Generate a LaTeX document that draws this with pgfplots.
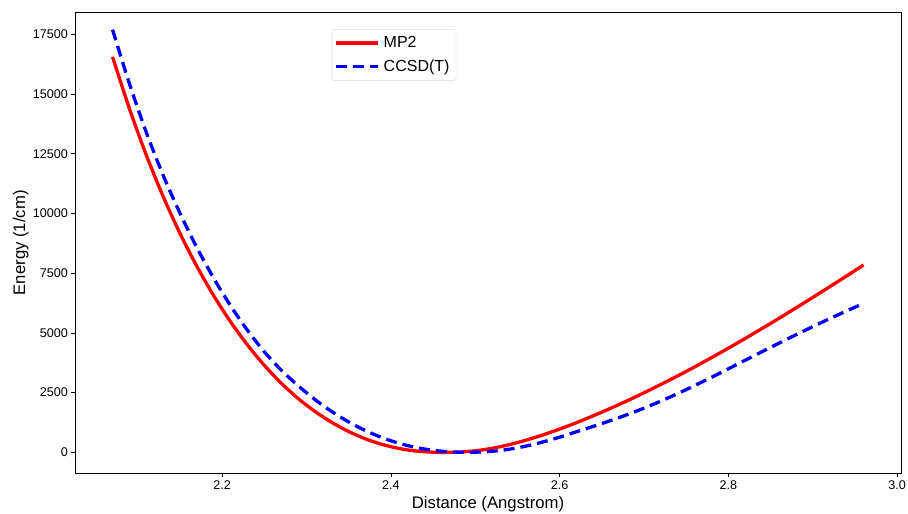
\documentclass[border=0pt]{standalone}
\usepackage{pgfplots}
\pgfplotsset{compat=1.18}
\usepackage{fontspec}
\setmainfont{Liberation Sans}
\pgfplotstableread{
x      y
2.07   16560
2.09   14392
2.11   12448
2.13   10712
2.15   9166
2.17   7785
2.19   6555
2.21   5462
2.23   4494
2.25   3640
2.27   2895
2.29   2254
2.31   1709
2.33   1252
2.35   870
2.37   562
2.39   327
2.41   159
2.43   54
2.45   7
2.465  0
2.48   12
2.50   65
2.52   170
2.54   320
2.56   510
2.58   730
2.60   975
2.62   1245
2.64   1535
2.66   1840
2.68   2160
2.70   2495
2.72   2845
2.74   3205
2.76   3580
2.78   3968
2.80   4365
2.82   4772
2.84   5190
2.86   5615
2.88   6050
2.90   6490
2.92   6935
2.94   7385
2.96   7845
}\mptwo
\pgfplotstableread{
x      y
2.07   17700
2.09   15440
2.11   13400
2.13   11600
2.15   10010
2.17   8570
2.19   7285
2.21   6133
2.23   5107
2.25   4208
2.27   3440
2.29   2790
2.31   2209
2.33   1704
2.35   1270
2.37   905
2.39   609
2.41   374
2.43   201
2.45   84
2.47   20
2.49   0
2.50   5
2.52   45
2.54   130
2.56   262
2.58   434
2.60   637
2.62   864
2.64   1090
2.66   1327
2.68   1580
2.70   1853
2.72   2148
2.74   2464
2.76   2798
2.78   3145
2.80   3500
2.82   3859
2.84   4218
2.86   4574
2.88   4924
2.90   5266
2.92   5599
2.94   5922
2.96   6235
}\ccsdt
\begin{document}
\begin{tikzpicture}
\useasboundingbox (0,0) rectangle (908pt,514pt);
\begin{axis}[
  at={(75pt,40.7pt)}, anchor=south west,
  scale only axis, width=826pt, height=461pt,
  xmin=2.0255, xmax=3.0045, ymin=-877, ymax=18427,
  xtick={2.2,2.4,2.6,2.8,3.0},
  ytick={0,2500,5000,7500,10000,12500,15000,17500},
  xticklabel style={/pgf/number format/.cd, fixed, fixed zerofill, precision=1},
  yticklabel style={/pgf/number format/.cd, fixed, 1000 sep={}},
  scaled y ticks=false,
  /pgf/number format/assume math mode=true,
  tick label style={font=\fontsize{12.6}{14}\selectfont, black},
  tick align=outside, tick pos=left,
  major tick length=3.5pt,
  every tick/.style={black, line width=0.8pt},
  axis line style={black, line width=0.8pt},
  xlabel={Distance (Angstrom)}, ylabel={Energy (1/cm)},
  label style={font=\fontsize{16.7}{19}\selectfont},
  ylabel style={yshift=-2.5pt},
  legend style={at={(0.3108,0.963)}, anchor=north west, draw=black!15, rounded corners=2pt,
    font=\fontsize{16}{18}\selectfont, inner xsep=2.5pt, inner ysep=5pt, row sep=7pt,
    nodes={inner xsep=4pt}},
  legend cell align=left,
  legend image code/.code={\draw[#1] (0pt,0pt) -- (36pt,0pt); \path (0pt,0pt) -- (42pt,0pt);},
]
\addplot[red, line width=3.3pt, smooth] table[x=x, y=y] {\mptwo};
\addlegendentry{MP2}
\addplot[blue, line width=3.3pt, dash pattern=on 11pt off 6pt, smooth] table[x=x, y=y] {\ccsdt};
\addlegendentry{CCSD(T)}
\end{axis}
\end{tikzpicture}
\end{document}
